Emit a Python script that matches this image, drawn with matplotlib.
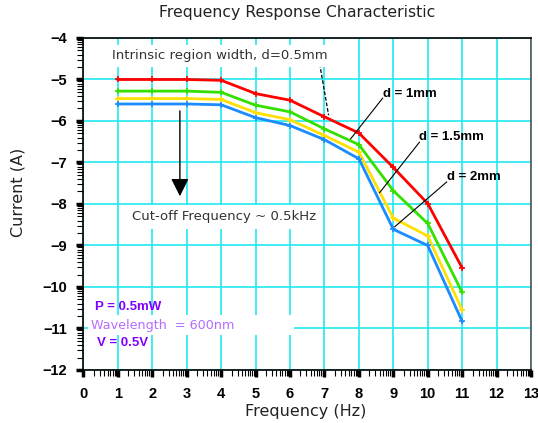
import numpy as np
import matplotlib
matplotlib.use('Agg')
import matplotlib.pyplot as plt
from matplotlib.ticker import FixedLocator

# Data
freq = [1, 2, 3, 4, 5, 6, 7, 8, 9, 10, 11]
cur_05mm = [-5.0, -5.0, -5.0, -5.02, -5.34, -5.50, -5.90, -6.29, -7.12, -7.99, -9.54]
cur_1mm = [-5.28, -5.28, -5.28, -5.31, -5.62, -5.78, -6.19, -6.57, -7.68, -8.47, -10.13]
cur_15mm = [-5.46, -5.46, -5.46, -5.48, -5.80, -5.97, -6.35, -6.75, -8.34, -8.77, -10.55]
cur_2mm = [-5.59, -5.59, -5.59, -5.61, -5.92, -6.11, -6.45, -6.91, -8.61, -9.00, -10.83]

series = [cur_05mm, cur_1mm, cur_15mm, cur_2mm]
colors = ['#ff0000', '#33e000', '#ffe000', '#1a8cff']

plt.rcParams['font.family'] = 'DejaVu Sans'

fig = plt.figure(figsize=(5.38, 4.23), dpi=100)
ax = fig.add_axes([0.1552, 0.1253, 0.8318, 0.7849])

# cyan grid
ax.set_xlim(0, 13)
ax.set_ylim(-12, -4)
ax.set_xticks(range(0, 14))
ax.set_yticks(range(-12, -3))
ax.grid(True, color='#22e8f0', lw=1.2)
ax.set_axisbelow(True)

# minor ticks in a log pattern inside each unit
minor_x = [n + np.log10(k) for n in range(13) for k in range(2, 10)]
minor_y = [n + np.log10(k) for n in range(-12, -4) for k in range(2, 10)]
ax.xaxis.set_minor_locator(FixedLocator(minor_x))
ax.yaxis.set_minor_locator(FixedLocator(minor_y))
ax.tick_params(which='major', direction='out', length=5, width=2.5, color='black', pad=7)
ax.tick_params(which='minor', direction='out', length=4, width=0.8, color='black')
ax.set_xticklabels([str(v) for v in range(0, 14)],
                   fontfamily='Liberation Sans', fontweight='bold', fontsize=10.5)
ax.set_yticklabels([str(v).replace('-', '\u2212') for v in range(-12, -3)],
                   fontfamily='Liberation Sans', fontweight='bold', fontsize=10.5)

for sp in ['left', 'bottom', 'top']:
    ax.spines[sp].set_color('black')
    ax.spines[sp].set_linewidth(1.2)
ax.spines['right'].set_color('#555555')
ax.spines['right'].set_linewidth(1.2)

for vals, c in zip(series, colors):
    ax.plot(freq, vals, color=c, lw=2.0, marker='+', ms=4, mew=1.2)

# titles
fig.text(297 / 538, 1 - 13 / 423, 'Frequency Response Characteristic',
         ha='center', va='center', fontsize=11.3, color='#222222')
fig.text(306 / 538, 1 - 411 / 423, 'Frequency (Hz)',
         ha='center', va='center', fontsize=11.5, color='#222222')
fig.text(18 / 538, 1 - 192 / 423, 'Current (A)', rotation=90,
         ha='center', va='center', fontsize=11.5, color='#222222')

ax.text(3.95, -4.43, 'Intrinsic region width, d=0.5mm', ha='center', va='center',
        fontsize=9.5, color='#333333', bbox=dict(facecolor='white', edgecolor='none', pad=3))
ax.plot([6.86, 7.12], [-4.62, -5.86], color='black', lw=0.9, ls='--', dashes=(3, 1.5))

ax.text(4.08, -8.31, 'Cut-off Frequency ~ 0.5kHz', ha='center', va='center',
        fontsize=9.5, color='#333333', bbox=dict(facecolor='white', edgecolor='none', pad=4))
ax.annotate('', xy=(2.8, -7.88), xytext=(2.8, -5.69),
            arrowprops=dict(arrowstyle='-|>,head_length=0.6,head_width=0.3',
                            color='black', lw=1.0, mutation_scale=18))

# d labels with leader lines
ax.text(8.69, -5.35, 'd = 1mm', ha='left', va='center', fontsize=9.5,
        fontweight='bold', fontfamily='Liberation Sans')
ax.plot([8.69, 7.76], [-5.45, -6.43], color='black', lw=0.8)
ax.text(9.74, -6.39, 'd = 1.5mm', ha='left', va='center', fontsize=9.5,
        fontweight='bold', fontfamily='Liberation Sans')
ax.plot([9.76, 8.60], [-6.51, -7.73], color='black', lw=0.8)
ax.text(10.55, -7.35, 'd = 2mm', ha='left', va='center', fontsize=9.5,
        fontweight='bold', fontfamily='Liberation Sans')
ax.plot([10.55, 9.04], [-7.47, -8.55], color='black', lw=0.8)

# conditions
ax.text(0.22, -10.92, 'Wavelength  = 600nm' + ' ' * 14, ha='left', va='center',
        fontsize=9.2, color='#b46cff',
        bbox=dict(facecolor='white', edgecolor='none', pad=2.5))
ax.text(0.33, -10.48, 'P = 0.5mW', ha='left', va='center', fontsize=9.5,
        fontweight='bold', fontfamily='Liberation Sans', color='#8000ff')
ax.text(0.39, -11.35, 'V = 0.5V', ha='left', va='center', fontsize=9.5,
        fontweight='bold', fontfamily='Liberation Sans', color='#8000ff')

fig.savefig('out.png', dpi=100)
